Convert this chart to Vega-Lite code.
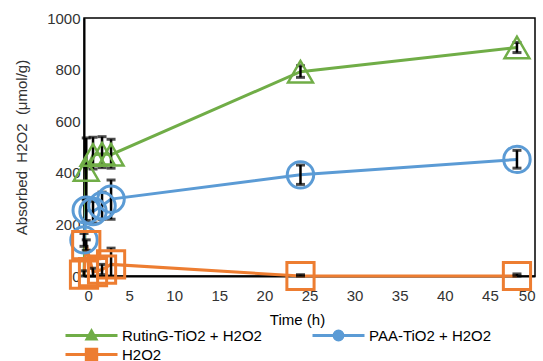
{
  "$schema": "https://vega.github.io/schema/vega-lite/v6.json",
  "width": 451,
  "height": 258,
  "autosize": "none",
  "padding": {"left": 84, "top": 18, "right": 8, "bottom": 85},
  "background": "white",
  "config": {
    "font": "Liberation Sans",
    "view": {"stroke": "black", "strokeWidth": 1.5},
    "axis": {
      "grid": false,
      "ticks": false,
      "domainColor": "black",
      "domainWidth": 2,
      "labelFont": "Liberation Sans",
      "titleFont": "Liberation Sans",
      "labelFontSize": 15,
      "titleFontSize": 15,
      "labelColor": "#333333",
      "titleColor": "#333333",
      "titleFontWeight": "normal"
    },
    "legend": {"padding": 0}
  },
  "data": {
    "values": [
      {"series": "RutinG-TiO2 + H2O2", "t": 0, "v": 0, "lo": 0, "hi": 0},
      {"series": "RutinG-TiO2 + H2O2", "t": 0.25, "v": 411, "lo": 300, "hi": 535},
      {"series": "RutinG-TiO2 + H2O2", "t": 1, "v": 469, "lo": 415, "hi": 538},
      {"series": "RutinG-TiO2 + H2O2", "t": 2, "v": 474, "lo": 420, "hi": 540},
      {"series": "RutinG-TiO2 + H2O2", "t": 3, "v": 470, "lo": 418, "hi": 530},
      {"series": "RutinG-TiO2 + H2O2", "t": 24, "v": 792, "lo": 770, "hi": 815},
      {"series": "RutinG-TiO2 + H2O2", "t": 48, "v": 886, "lo": 866, "hi": 905},
      {"series": "PAA-TiO2 + H2O2", "t": 0, "v": 140, "lo": 115, "hi": 165},
      {"series": "PAA-TiO2 + H2O2", "t": 0.25, "v": 255, "lo": 215, "hi": 295},
      {"series": "PAA-TiO2 + H2O2", "t": 1, "v": 250, "lo": 205, "hi": 290},
      {"series": "PAA-TiO2 + H2O2", "t": 2, "v": 272, "lo": 220, "hi": 325},
      {"series": "PAA-TiO2 + H2O2", "t": 3, "v": 298, "lo": 220, "hi": 372},
      {"series": "PAA-TiO2 + H2O2", "t": 24, "v": 392, "lo": 355, "hi": 430},
      {"series": "PAA-TiO2 + H2O2", "t": 48, "v": 452, "lo": 418, "hi": 487},
      {"series": "H2O2", "t": 0, "v": 5, "lo": 0, "hi": 20},
      {"series": "H2O2", "t": 0.25, "v": 120, "lo": 100, "hi": 140},
      {"series": "H2O2", "t": 1, "v": 15, "lo": 0, "hi": 30},
      {"series": "H2O2", "t": 2, "v": 25, "lo": 5, "hi": 45},
      {"series": "H2O2", "t": 3, "v": 45, "lo": 0, "hi": 108},
      {"series": "H2O2", "t": 24, "v": 0, "lo": 0, "hi": 5},
      {"series": "H2O2", "t": 48, "v": 0, "lo": 0, "hi": 8}
    ]
  },
  "encoding": {
    "x": {
      "field": "t",
      "type": "quantitative",
      "scale": {"domain": [0, 50], "nice": false},
      "axis": {
        "values": [0, 5, 10, 15, 20, 25, 30, 35, 40, 45, 50],
        "title": "Time (h)",
        "labelPadding": 12,
        "titlePadding": 9,
        "titleX": 213,
        "titleColor": "black"
      }
    }
  },
  "layer": [
    {
      "mark": {"type": "line", "strokeWidth": 3},
      "encoding": {
        "y": {
          "field": "v",
          "type": "quantitative",
          "scale": {"domain": [0, 1000], "nice": false},
          "axis": {
            "values": [0, 200, 400, 600, 800, 1000],
            "format": "d",
            "title": "Absorbed\u00a0 H2O2\u00a0 (μmol/g)",
            "labelPadding": 4,
            "titlePadding": 17
          }
        },
        "color": {
          "field": "series",
          "type": "nominal",
          "scale": {
            "domain": ["RutinG-TiO2 + H2O2", "PAA-TiO2 + H2O2", "H2O2"],
            "range": ["#70AD47", "#5B9BD5", "#ED7D31"]
          },
          "legend": {
            "orient": "none",
            "direction": "horizontal",
            "legendX": -20,
            "legendY": 309,
            "columns": 2,
            "title": null,
            "labelFont": "Liberation Sans",
            "labelFontSize": 15,
            "labelColor": "black",
            "symbolSize": 2704,
            "symbolStrokeWidth": 3,
            "labelOffset": 3,
            "columnPadding": 49,
            "rowPadding": 2,
            "clipHeight": 17,
            "encode": {
              "symbols": {
                "update": {
                  "shape": {"signal": "datum.value === 'H2O2' ? 'M-1,0H1M-0.2,-0.2H0.2V0.2H-0.2Z' : (datum.value === 'PAA-TiO2 + H2O2' ? 'M-1,0H1M0.17,0A0.17,0.17,0,1,1,-0.17,0A0.17,0.17,0,1,1,0.17,0Z' : 'M-1,0H1M-0.17,0.13L0,-0.17L0.17,0.13Z')"},
                  "size": {"value": 2704},
                  "fill": {"scale": "color", "field": "value"},
                  "stroke": {"scale": "color", "field": "value"},
                  "strokeWidth": {"value": 3},
                  "opacity": {"value": 1}
                }
              }
            }
          }
        }
      }
    },
    {
      "transform": [{"filter": "datum.hi > datum.lo"}],
      "mark": {"type": "rule", "color": "black", "strokeWidth": 2.5},
      "encoding": {
        "y": {"field": "lo", "type": "quantitative"},
        "y2": {"field": "hi"}
      }
    },
    {
      "transform": [{"filter": "datum.hi > datum.lo"}],
      "mark": {"type": "tick", "orient": "horizontal", "color": "black", "thickness": 3, "size": 9},
      "encoding": {"y": {"field": "lo", "type": "quantitative"}}
    },
    {
      "transform": [{"filter": "datum.hi > datum.lo"}],
      "mark": {"type": "tick", "orient": "horizontal", "color": "black", "thickness": 3, "size": 9},
      "encoding": {"y": {"field": "hi", "type": "quantitative"}}
    },
    {
      "transform": [{"filter": "datum.t > 0 && datum.series === 'RutinG-TiO2 + H2O2'"}],
      "mark": {"type": "point", "shape": "triangle-up", "size": 620, "filled": false, "strokeWidth": 2.5, "opacity": 1},
      "encoding": {
        "y": {"field": "v", "type": "quantitative"},
        "color": {"field": "series", "type": "nominal"}
      }
    },
    {
      "transform": [{"filter": "datum.series === 'PAA-TiO2 + H2O2'"}],
      "mark": {"type": "point", "shape": "circle", "size": 700, "filled": false, "strokeWidth": 3, "opacity": 1},
      "encoding": {
        "y": {"field": "v", "type": "quantitative"},
        "color": {"field": "series", "type": "nominal"}
      }
    },
    {
      "transform": [{"filter": "datum.series === 'H2O2'"}],
      "mark": {"type": "point", "shape": "square", "size": 740, "filled": false, "strokeWidth": 3, "opacity": 1},
      "encoding": {
        "y": {"field": "v", "type": "quantitative"},
        "color": {"field": "series", "type": "nominal"}
      }
    }
  ]
}
